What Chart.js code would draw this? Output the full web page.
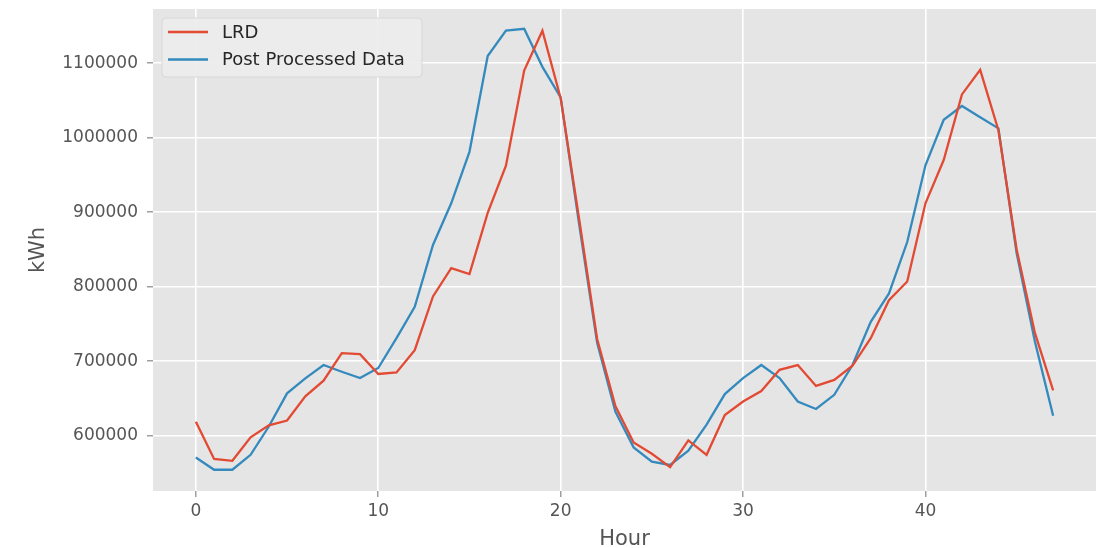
<!DOCTYPE html>
<html>
<head>
<meta charset="utf-8">
<script src="https://cdn.jsdelivr.net/npm/chart.js@4/dist/chart.umd.min.js"></script>
<style>
  html, body { margin: 0; padding: 0; background: #fff; }
  #wrap { width: 1107px; height: 548px; }
</style>
</head>
<body>
<div id="wrap"><canvas id="myPlot" width="1107" height="548"></canvas></div>
<script>
/* global Chart */
var hours = [0,1,2,3,4,5,6,7,8,9,10,11,12,13,14,15,16,17,18,19,20,21,22,23,
             24,25,26,27,28,29,30,31,32,33,34,35,36,37,38,39,40,41,42,43,44,45,46,47];
var lrd = [619000, 569000, 566500, 598000, 614000, 620500, 653000, 674000, 711000, 709500,
           683000, 685000, 715000, 787000, 825000, 817000, 899000, 962500, 1090000, 1143500,
           1053000, 893000, 730000, 640000, 591000, 576000, 558000, 594000, 574500, 628000,
           646000, 660000, 688500, 695000, 667000, 675000, 694000, 731000, 782000, 807000,
           912000, 970000, 1058000, 1091000, 1010000, 850000, 738000, 661000];
var ppd = [571000, 554500, 554500, 574500, 612500, 657000, 677000, 695000, 686000, 677500,
           691000, 731000, 773000, 856000, 912000, 981000, 1109500, 1143500, 1146000, 1095000,
           1054000, 886000, 725000, 632500, 584500, 565500, 561000, 580000, 615000, 656000,
           677500, 695000, 677500, 646000, 636000, 655000, 695000, 753000, 791000, 860000,
           963000, 1024000, 1042500, 1027500, 1012500, 845000, 726500, 627000];
var xTicks = [0, 10, 20, 30, 40];
var yTicks = [600000, 700000, 800000, 900000, 1000000, 1100000];

var police = "'DejaVu Sans', sans-serif";

function points(arr) {
  return hours.map(function (h, i) { return { x: h, y: arr[i] }; });
}

// fond gris de la zone de tracé (style ggplot)
var fondGris = {
  id: 'fondGris',
  beforeDraw: function (chart) {
    var a = chart.chartArea, ctx = chart.ctx;
    ctx.save();
    ctx.fillStyle = '#E5E5E5';
    ctx.fillRect(a.left, a.top, a.right - a.left, a.bottom - a.top);
    ctx.restore();
  }
};

// légende dessinée dans le coin haut gauche
var legendeBox = {
  id: 'legendeBox',
  afterDatasetsDraw: function (chart) {
    var ctx = chart.ctx;
    var x0 = 162, y0 = 18, w = 260, h = 59;
    ctx.save();
    ctx.beginPath();
    if (ctx.roundRect) ctx.roundRect(x0, y0, w, h, 4); else ctx.rect(x0, y0, w, h);
    ctx.fillStyle = 'rgba(236,236,236,0.9)';
    ctx.fill();
    ctx.strokeStyle = '#D8D8D8';
    ctx.lineWidth = 1;
    ctx.stroke();
    ctx.font = '18px ' + police;
    ctx.textBaseline = 'middle';
    chart.data.datasets.forEach(function (ds, i) {
      var y = 32 + i * 27.5;
      ctx.strokeStyle = ds.borderColor;
      ctx.lineWidth = 2.5;
      ctx.beginPath();
      ctx.moveTo(168, y);
      ctx.lineTo(208, y);
      ctx.stroke();
      ctx.fillStyle = '#262626';
      ctx.fillText(ds.label, 222, y + 1);
    });
    ctx.restore();
  }
};

var ctx = document.getElementById('myPlot').getContext('2d');
var myChart = new Chart(ctx, {
  type: 'line',
  data: {
    datasets: [{
      label: 'LRD',
      data: points(lrd),
      borderColor: '#E24A33',
      borderWidth: 2.3,
      pointRadius: 0,
      tension: 0,
      fill: false
    }, {
      label: 'Post Processed Data',
      data: points(ppd),
      borderColor: '#348ABD',
      borderWidth: 2.3,
      pointRadius: 0,
      tension: 0,
      fill: false
    }]
  },
  options: {
    responsive: false,
    animation: false,
    devicePixelRatio: 1,
    layout: { padding: { left: 0, right: 11, top: 9, bottom: 0 } },
    plugins: {
      legend: { display: false },
      tooltip: { enabled: false }
    },
    scales: {
      x: {
        type: 'linear',
        min: -2.35,
        max: 49.35,
        afterBuildTicks: function (s) { s.ticks = xTicks.map(function (v) { return { value: v }; }); },
        afterFit: function (s) { s.height = 57; s.paddingLeft = 0; s.paddingRight = 0; },
        border: { display: false },
        grid: { color: '#FFFFFF', lineWidth: 1.6, tickColor: '#888888', tickLength: 6, tickWidth: 1.2 },
        ticks: { color: '#555555', font: { family: police, size: 17 }, padding: 4, maxRotation: 0 },
        title: { display: true, text: 'Hour', color: '#555555', font: { family: police, size: 21 }, padding: { top: 0, bottom: -4 } }
      },
      y: {
        type: 'linear',
        min: 526000,
        max: 1172600,
        afterBuildTicks: function (s) { s.ticks = yTicks.map(function (v) { return { value: v }; }); },
        afterFit: function (s) { s.width = 153; s.paddingTop = 0; s.paddingBottom = 0; },
        border: { display: false },
        grid: { color: '#FFFFFF', lineWidth: 1.6, tickColor: '#888888', tickLength: 6, tickWidth: 1.2 },
        ticks: { color: '#555555', font: { family: police, size: 17 }, padding: 9,
                 callback: function (v) { return String(v); } },
        title: { display: true, text: 'kWh', color: '#555555', font: { family: police, size: 21 }, padding: { top: 26, bottom: 0 } }
      }
    }
  },
  plugins: [fondGris, legendeBox]
});
</script>
</body>
</html>
